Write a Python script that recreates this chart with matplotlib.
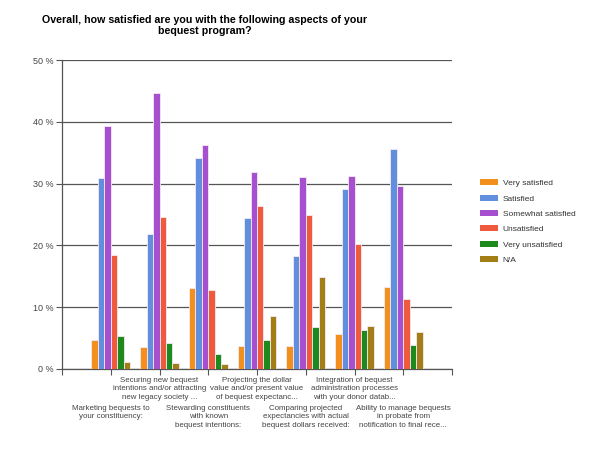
import numpy as np
import matplotlib
matplotlib.use("Agg")
import matplotlib.pyplot as plt
from matplotlib.patches import Patch
from matplotlib.transforms import blended_transform_factory

plt.rcParams["font.family"] = ["Liberation Sans", "DejaVu Sans"]

TITLE = "Overall, how satisfied are you with the following aspects of your\nbequest program?"
categories = [
    "Marketing bequests to\nyour constituency:",
    "Securing new bequest\nintentions and/or attracting\nnew legacy society ...",
    "Stewarding constituents\nwith known\nbequest intentions:",
    "Projecting the dollar\nvalue and/or present value\nof bequest expectanc...",
    "Comparing projected\nexpectancies with actual\nbequest dollars received:",
    "Integration of bequest\nadministration processes\nwith your donor datab...",
    "Ability to manage bequests\nin probate from\nnotification to final rece...",
]
series = ["Very satisfied", "Satisfied", "Somewhat satisfied",
          "Unsatisfied", "Very unsatisfied", "N/A"]
very_satisfied = [4.7, 3.6, 13.1, 3.8, 3.8, 5.7, 13.2]
satisfied = [30.9, 21.8, 34.2, 24.4, 18.3, 29.2, 35.6]
somewhat = [39.4, 44.7, 36.3, 31.9, 31.0, 31.2, 29.6]
unsatisfied = [18.4, 24.6, 12.8, 26.3, 24.9, 20.2, 11.4]
very_unsatisfied = [5.3, 4.2, 2.4, 4.7, 6.8, 6.3, 3.9]
na = [1.1, 0.9, 0.8, 8.6, 14.9, 7.0, 6.0]
values = [very_satisfied, satisfied, somewhat, unsatisfied, very_unsatisfied, na]
colors = ["#f3901d", "#628ede", "#a64fcf", "#f05a3c", "#1e8a1e", "#a37d16"]
yticks = [0, 10, 20, 30, 40, 50]

fig = plt.figure(figsize=(6, 4.5), dpi=100)
ax = fig.add_axes([62 / 600, 81 / 450, 390 / 600, 309 / 450])

x = np.arange(1, len(categories) + 1)
pitch = 0.132
for i, (vals, col) in enumerate(zip(values, colors)):
    off = (i - 2.5) * pitch
    ax.bar(x + off, vals, width=pitch, color=col, edgecolor="#f4eaf4",
           linewidth=0.6, zorder=3)

ax.set_xlim(0, 8)
ax.set_ylim(0, 50)
ax.set_yticks(yticks)
ax.set_yticklabels([f"{t} %" for t in yticks], fontsize=6.5, color="#444444")
ax.set_xticks(np.arange(0, 9))
ax.set_xticklabels([])
ax.tick_params(axis="both", length=4, width=0.8, color="#555555", pad=2)
ax.grid(axis="y", color="#555555", linewidth=0.9, zorder=0)
for s in ["top", "right"]:
    ax.spines[s].set_visible(False)
for s in ["left", "bottom"]:
    ax.spines[s].set_color("#555555")
    ax.spines[s].set_linewidth(0.9)

trans = blended_transform_factory(ax.transData, fig.transFigure)
for i, lab in enumerate(categories):
    ytop = (450 - 377) / 450 if i % 2 == 1 else (450 - 405) / 450
    ax.text(x[i], ytop, lab, transform=trans, ha="center", va="top",
            fontsize=5.7, color="#444444", linespacing=1.3)

fig.text(205 / 600, 1 - 15 / 450, TITLE, ha="center", va="top",
         fontsize=7.7, fontweight="bold", linespacing=1.15)

handles = [Patch(facecolor=c, edgecolor="none") for c in colors]
fig.legend(handles, series, loc="upper left",
           bbox_to_anchor=(472 / 600, 1 - 172 / 450), frameon=False,
           fontsize=6, handlelength=2.2, handleheight=0.7, labelspacing=0.9,
           handletextpad=0.6, labelcolor="#333333")

fig.savefig("out.png", dpi=100)
